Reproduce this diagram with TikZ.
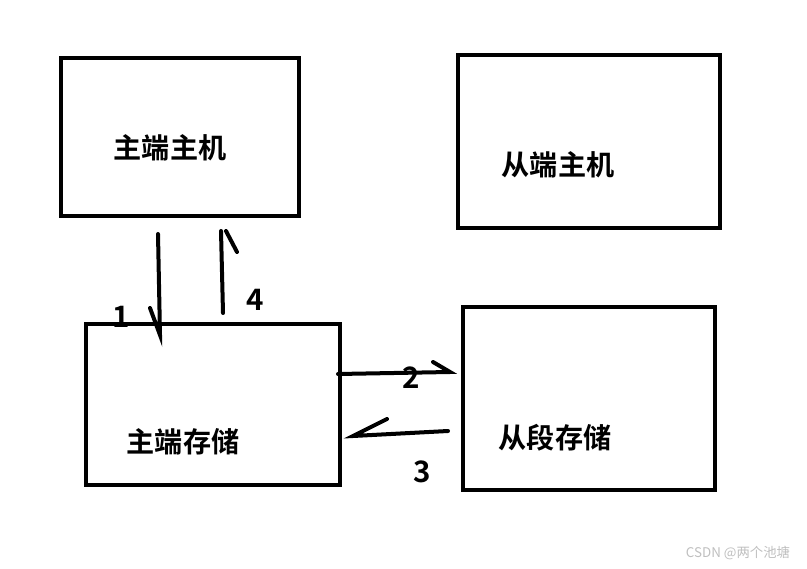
\documentclass[tikz,border=0pt]{standalone}
\usepackage{fontspec}
\setmainfont{Noto Sans CJK SC}
\newfontfamily\cjkbold{Noto Sans CJK SC Bold}
\usetikzlibrary{calc}

\begin{document}
\begin{tikzpicture}[
  x=0.025cm, y=-0.025cm,
  hostbox/.style={draw, line width=0.1cm, inner sep=0pt},
  boxtext/.style={font=\cjkbold\fontsize{20}{24}\selectfont, inner sep=0pt},
  numtext/.style={font=\cjkbold\fontsize{21}{24}\selectfont, inner sep=0pt},
  stroke/.style={line width=0.1cm, line cap=round},
]
\useasboundingbox (0,0) rectangle (807,569);

% boxes
\node[hostbox, minimum width=5.95cm, minimum height=3.95cm] (zjzj) at (180,137) {};
\node[hostbox, minimum width=6.55cm, minimum height=4.33cm] (cjzj) at (589,141.5) {};
\node[hostbox, minimum width=6.35cm, minimum height=4.03cm] (zjcc) at (213,404.5) {};
\node[hostbox, minimum width=6.3cm, minimum height=4.58cm] (cdcc) at (589,398.5) {};

\node[boxtext] (zjzjt) at (170,148) {主端主机};
\node[boxtext] (cjzjt) at (558,165) {从端主机};
\node[boxtext] (zjcct) at (183,442) {主端存储};
\node[boxtext] (cdcct) at (555,438) {从段存储};

% hand drawn arrows
\coordinate (a1s) at (158,234);
\coordinate (a1e) at (160,335);
\coordinate (a1b) at (150,308);
\coordinate (a4s) at (223,313);
\coordinate (a4e) at (221,231);
\coordinate (a4b) at (237,252);
\coordinate (a2s) at (338,374);
\coordinate (a2e) at (450,372);
\coordinate (a2b) at (433,362);
\coordinate (a3s) at (448,431);
\coordinate (a3e) at (353,436);
\coordinate (a3b) at (387,419);

\draw[stroke] (a1s) -- (a1e) -- (a1b);
\draw[stroke] (a4s) -- (a4e);
\draw[stroke] (226,231) -- (a4b);
\draw[stroke] (a2s) -- (a2e) -- (a2b);
\draw[stroke] (a3s) -- (a3e) -- (a3b);

\node[numtext] (n1) at (121,317) {1};
\node[numtext] (n4) at (255,300) {4};
\node[numtext] (n2) at (411,378) {2};
\node[numtext] (n3) at (422,472) {3};

\node[font=\fontsize{9.5}{11}\selectfont, text=black!25, inner sep=0pt] (wm) at (738,553) {CSDN @两个池塘};
\end{tikzpicture}
\end{document}
